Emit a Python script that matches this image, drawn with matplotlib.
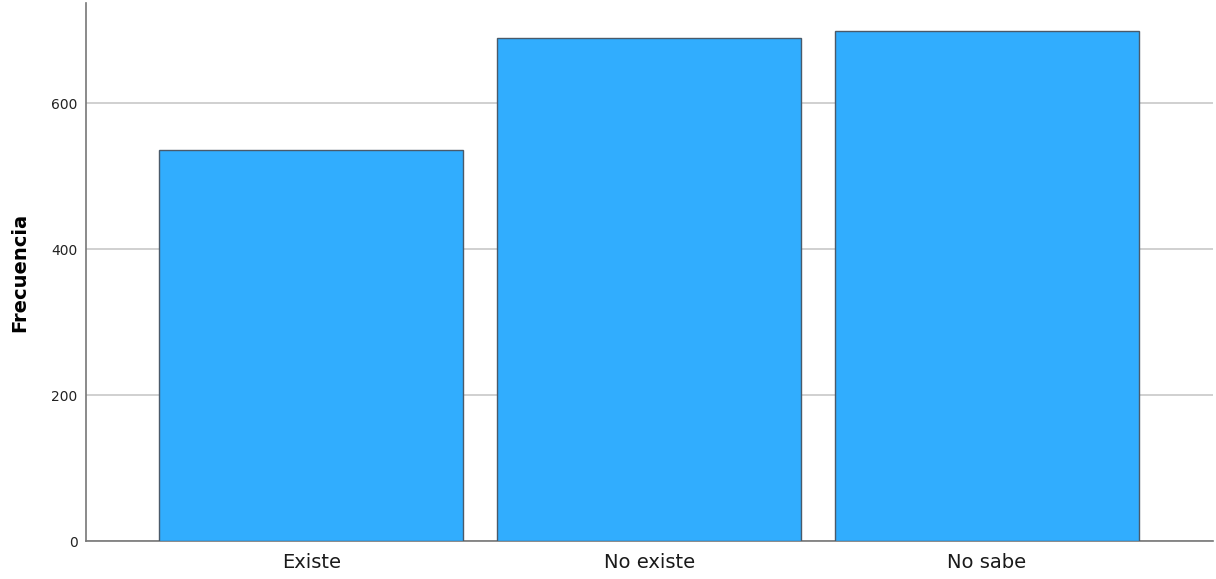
import matplotlib
matplotlib.use("Agg")
import matplotlib.pyplot as plt

plt.rcParams["font.family"] = ["DejaVu Sans"]

categories = ["Existe", "No existe", "No sabe"]
frecuencias = [536, 689, 699]
yticks = [0, 200, 400, 600]

fig = plt.figure(figsize=(12.16, 5.79), dpi=100)
ax = fig.add_axes([0.0707, 0.0648, 0.9268, 0.93])

x = list(range(len(categories)))
ax.bar(x, frecuencias, width=0.9, color="#31adfe", edgecolor="#4a5a6a",
       linewidth=1.0, zorder=3)

ax.set_xlim(-0.667, 2.669)
ax.set_ylim(0, 737)
ax.set_yticks(yticks)
ax.set_xticks(x)
ax.set_xticklabels(categories, fontsize=14, color="#1a1a1a")
ax.tick_params(axis="y", length=0, labelsize=10, pad=6, labelcolor="#222222")
ax.tick_params(axis="x", length=0, pad=8)
ax.yaxis.grid(True, color="#c8c8c8", linewidth=1.2, zorder=0)

for side in ["top", "right"]:
    ax.spines[side].set_visible(False)
for side in ["left", "bottom"]:
    ax.spines[side].set_color("#777777")
    ax.spines[side].set_linewidth(1.2)

ax.set_ylabel("Frecuencia", fontsize=14, fontweight="bold", labelpad=16)

fig.savefig("out.png", dpi=100)
